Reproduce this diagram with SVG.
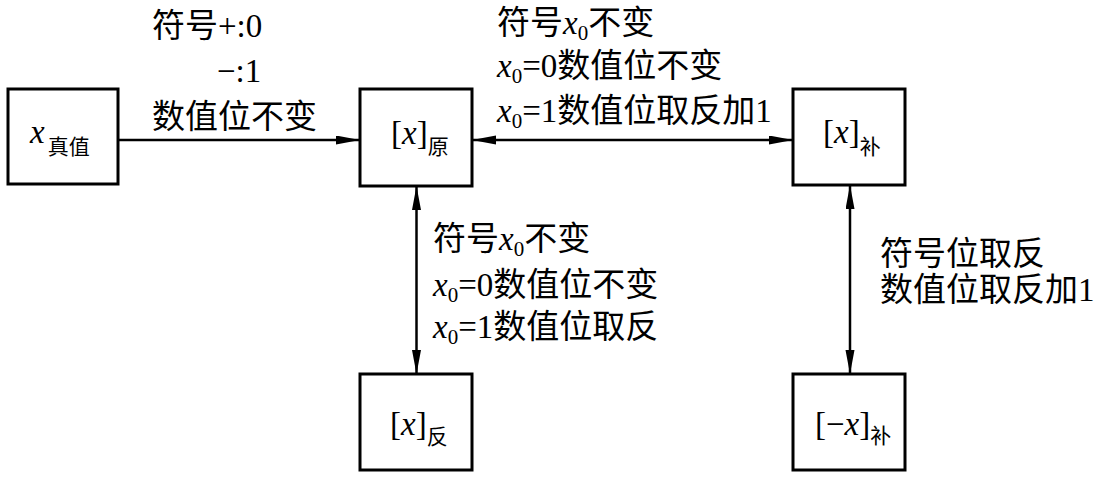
<svg xmlns="http://www.w3.org/2000/svg" width="1097" height="481" viewBox="0 0 1097 481">
<style>
text{font-family:"Liberation Serif","Noto Sans CJK SC",serif;fill:#000;}
.t{font-size:33px;}
.sub{font-size:21px;}
.cj{font-family:"Noto Sans CJK SC",sans-serif;font-size:21px;}
.box{fill:#fff;stroke:#000;stroke-width:3;}
.con{stroke:#000;stroke-width:2.5;fill:none;}
</style>
<defs>
<marker id="ah" markerUnits="userSpaceOnUse" markerWidth="24" markerHeight="10" refX="23" refY="4.5" orient="auto-start-reverse">
<path d="M0,0 L24,4.5 L0,9 z" fill="#000"/>
</marker>
</defs>
<rect width="1097" height="481" fill="#fff"/>
<g id="connectors">
<line class="con" x1="118" y1="140" x2="359" y2="140" marker-end="url(#ah)"/>
<line class="con" x1="473" y1="140" x2="792" y2="140" marker-start="url(#ah)" marker-end="url(#ah)"/>
<line class="con" x1="416.5" y1="187" x2="416.5" y2="373" marker-start="url(#ah)" marker-end="url(#ah)"/>
<line class="con" x1="850" y1="186" x2="850" y2="373" marker-start="url(#ah)" marker-end="url(#ah)"/>
</g>
<g id="node-true">
<rect class="box" x="8" y="89" width="110" height="95"/>
<text class="t" x="30" y="143"><tspan font-style="italic">x</tspan><tspan class="cj" dx="3" dy="11">真值</tspan></text>
</g>
<g id="node-yuan">
<rect class="box" x="360" y="89" width="112" height="97"/>
<text class="t" x="391" y="144">[<tspan font-style="italic">x</tspan>]<tspan class="cj" dy="10">原</tspan></text>
</g>
<g id="node-bu">
<rect class="box" x="793" y="89" width="112" height="96"/>
<text class="t" x="823" y="143">[<tspan font-style="italic">x</tspan>]<tspan class="cj" dy="11">补</tspan></text>
</g>
<g id="node-fan">
<rect class="box" x="360" y="374" width="112" height="96"/>
<text class="t" x="390" y="435">[<tspan font-style="italic">x</tspan>]<tspan class="cj" dy="9">反</tspan></text>
</g>
<g id="node-negbu">
<rect class="box" x="793" y="374" width="112" height="96"/>
<text class="t" x="815" y="435">[−<tspan font-style="italic">x</tspan>]<tspan class="cj" dy="8">补</tspan></text>
</g>
<g id="labels">
<text class="t" x="152" y="37">符号+:0</text>
<text class="t" x="217" y="82">−:1</text>
<text class="t" x="152" y="128">数值位不变</text>

<text class="t" x="497" y="34">符号<tspan font-style="italic">x</tspan><tspan class="sub" dy="6">0</tspan><tspan dy="-6">不变</tspan></text>
<text class="t" x="497" y="77"><tspan font-style="italic">x</tspan><tspan class="sub" dy="6">0</tspan><tspan dy="-6">=0数值位不变</tspan></text>
<text class="t" x="497" y="122"><tspan font-style="italic">x</tspan><tspan class="sub" dy="6">0</tspan><tspan dy="-6">=1数值位取反加1</tspan></text>

<text class="t" x="433" y="250">符号<tspan font-style="italic">x</tspan><tspan class="sub" dy="6">0</tspan><tspan dy="-6">不变</tspan></text>
<text class="t" x="433" y="296"><tspan font-style="italic">x</tspan><tspan class="sub" dy="6">0</tspan><tspan dy="-6">=0数值位不变</tspan></text>
<text class="t" x="433" y="338"><tspan font-style="italic">x</tspan><tspan class="sub" dy="6">0</tspan><tspan dy="-6">=1数值位取反</tspan></text>

<text class="t" x="880" y="265">符号位取反</text>
<text class="t" x="880" y="301">数值位取反加1</text>
</g>
</svg>
